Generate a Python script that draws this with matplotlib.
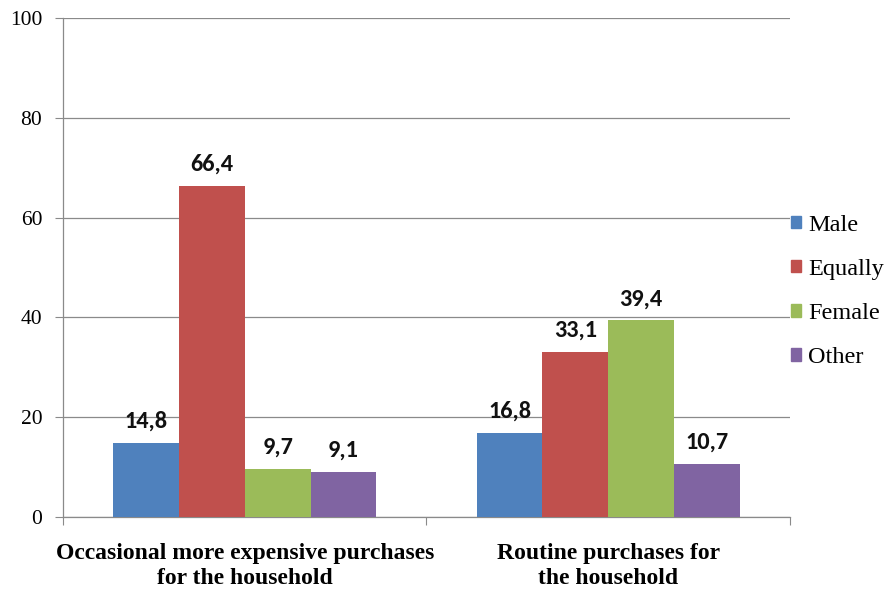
import numpy as np
import matplotlib.pyplot as plt
from matplotlib.patches import Patch

categories = ['Occasional more expensive purchases\nfor the household',
              'Routine purchases for\nthe household']
series = ['Male', 'Equally', 'Female', 'Other']
values = {
    'Male': [14.8, 16.8],
    'Equally': [66.4, 33.1],
    'Female': [9.7, 39.4],
    'Other': [9.1, 10.7],
}
colors = ['#4F81BD', '#C0504D', '#9BBB59', '#8064A2']
yticks = [0, 20, 40, 60, 80, 100]

serif = ['Liberation Serif', 'DejaVu Serif']
sans = ['Carlito', 'Open Sans', 'DejaVu Sans']

fig = plt.figure(figsize=(8.86, 5.89), dpi=100)
ax = fig.add_axes([0.0711, 0.1222, 0.8205, 0.8472])

centers = np.arange(len(categories)) + 0.5
width = 0.181
for i, (name, col) in enumerate(zip(series, colors)):
    xs = centers + (i - 1.5) * width
    bars = ax.bar(xs, values[name], width, color=col, zorder=3)
    for b, v in zip(bars, values[name]):
        ax.annotate(('%.1f' % v).replace('.', ','),
                    (b.get_x() + b.get_width() / 2, v), xytext=(0, 8),
                    textcoords='offset points', ha='center', va='bottom',
                    fontsize=17.5, fontweight='bold', family=sans, color='#111111')

ax.set_xlim(0, 2)
ax.set_ylim(0, 100)
ax.set_yticks(yticks)
ax.set_yticklabels([str(t) for t in yticks], family=serif, fontsize=15.5)
ax.yaxis.grid(True, color='#8a8a8a', linewidth=0.9, zorder=0)

# category labels under the groups, ticks at the group boundaries
ax.set_xticks([0, 1, 2])
ax.set_xticklabels([])
ax.tick_params(axis='x', length=6, color='#8a8a8a', direction='out')
ax.tick_params(axis='y', length=6, color='#8a8a8a', direction='out', pad=9)
for c, lab in zip(centers, categories):
    ax.annotate(lab, (c, 0), xytext=(0, -19), textcoords='offset points',
                ha='center', va='top', fontsize=17, fontweight='bold',
                family=serif, linespacing=1.2)

for s in ['top', 'right']:
    ax.spines[s].set_visible(False)
for s in ['left', 'bottom']:
    ax.spines[s].set_color('#8a8a8a')
    ax.spines[s].set_linewidth(0.9)

handles = [Patch(color=c, label=n) for n, c in zip(series, colors)]
fig.legend(handles=handles, loc='center left', bbox_to_anchor=(0.893, 0.505),
           frameon=False, prop={'family': serif, 'size': 17.5},
           handlelength=0.4, handleheight=0.4, handletextpad=0.3,
           labelspacing=0.95, borderaxespad=0, borderpad=0)

fig.savefig('out.png', dpi=100)
